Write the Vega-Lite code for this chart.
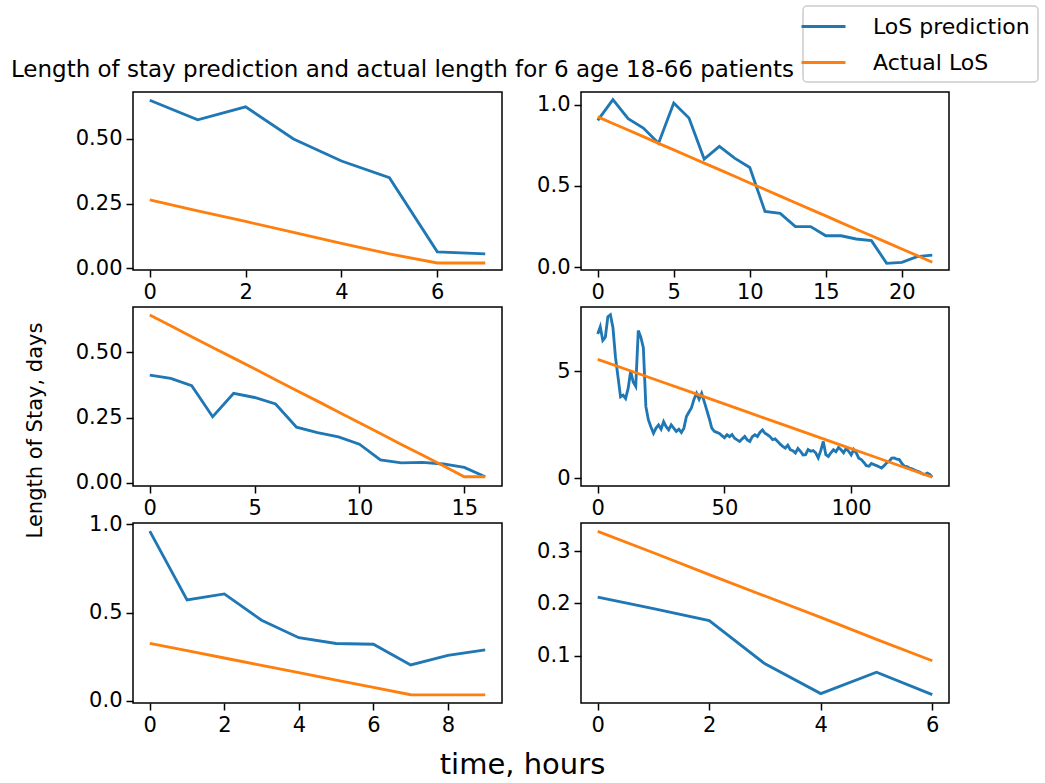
{
"$schema": "https://vega.github.io/schema/vega-lite/v6.json",
"background": "white",
"padding": {"left": 10, "top": 5, "right": 2, "bottom": 5},
"datasets": {
"d": [
{"p":1,"s":"LoS prediction","t":0,"v":0.648},{"p":1,"s":"LoS prediction","t":1,"v":0.573},{"p":1,"s":"LoS prediction","t":2,"v":0.623},{"p":1,"s":"LoS prediction","t":3,"v":0.499},{"p":1,"s":"LoS prediction","t":4,"v":0.414},{"p":1,"s":"LoS prediction","t":5,"v":0.350},{"p":1,"s":"LoS prediction","t":6,"v":0.064},{"p":1,"s":"LoS prediction","t":7,"v":0.056},
{"p":1,"s":"Actual LoS","t":0,"v":0.264},{"p":1,"s":"Actual LoS","t":1,"v":0.222},{"p":1,"s":"Actual LoS","t":2,"v":0.181},{"p":1,"s":"Actual LoS","t":3,"v":0.139},{"p":1,"s":"Actual LoS","t":4,"v":0.097},{"p":1,"s":"Actual LoS","t":5,"v":0.056},{"p":1,"s":"Actual LoS","t":6,"v":0.021},{"p":1,"s":"Actual LoS","t":7,"v":0.021},

{"p":2,"s":"LoS prediction","t":0,"v":0.903},{"p":2,"s":"LoS prediction","t":1,"v":1.031},{"p":2,"s":"LoS prediction","t":2,"v":0.914},{"p":2,"s":"LoS prediction","t":3,"v":0.856},{"p":2,"s":"LoS prediction","t":4,"v":0.763},{"p":2,"s":"LoS prediction","t":5,"v":1.010},{"p":2,"s":"LoS prediction","t":6,"v":0.918},{"p":2,"s":"LoS prediction","t":7,"v":0.665},{"p":2,"s":"LoS prediction","t":8,"v":0.743},{"p":2,"s":"LoS prediction","t":9,"v":0.671},{"p":2,"s":"LoS prediction","t":10,"v":0.613},{"p":2,"s":"LoS prediction","t":11,"v":0.342},{"p":2,"s":"LoS prediction","t":12,"v":0.331},{"p":2,"s":"LoS prediction","t":13,"v":0.249},{"p":2,"s":"LoS prediction","t":14,"v":0.249},{"p":2,"s":"LoS prediction","t":15,"v":0.193},{"p":2,"s":"LoS prediction","t":16,"v":0.193},{"p":2,"s":"LoS prediction","t":17,"v":0.173},{"p":2,"s":"LoS prediction","t":18,"v":0.163},{"p":2,"s":"LoS prediction","t":19,"v":0.023},{"p":2,"s":"LoS prediction","t":20,"v":0.029},{"p":2,"s":"LoS prediction","t":21,"v":0.064},{"p":2,"s":"LoS prediction","t":22,"v":0.074},
{"p":2,"s":"Actual LoS","t":0,"v":0.925},{"p":2,"s":"Actual LoS","t":1,"v":0.884},{"p":2,"s":"Actual LoS","t":2,"v":0.844},{"p":2,"s":"Actual LoS","t":3,"v":0.803},{"p":2,"s":"Actual LoS","t":4,"v":0.762},{"p":2,"s":"Actual LoS","t":5,"v":0.722},{"p":2,"s":"Actual LoS","t":6,"v":0.681},{"p":2,"s":"Actual LoS","t":7,"v":0.640},{"p":2,"s":"Actual LoS","t":8,"v":0.600},{"p":2,"s":"Actual LoS","t":9,"v":0.559},{"p":2,"s":"Actual LoS","t":10,"v":0.518},{"p":2,"s":"Actual LoS","t":11,"v":0.478},{"p":2,"s":"Actual LoS","t":12,"v":0.437},{"p":2,"s":"Actual LoS","t":13,"v":0.396},{"p":2,"s":"Actual LoS","t":14,"v":0.355},{"p":2,"s":"Actual LoS","t":15,"v":0.315},{"p":2,"s":"Actual LoS","t":16,"v":0.274},{"p":2,"s":"Actual LoS","t":17,"v":0.233},{"p":2,"s":"Actual LoS","t":18,"v":0.193},{"p":2,"s":"Actual LoS","t":19,"v":0.152},{"p":2,"s":"Actual LoS","t":20,"v":0.111},{"p":2,"s":"Actual LoS","t":21,"v":0.071},{"p":2,"s":"Actual LoS","t":22,"v":0.030},

{"p":3,"s":"LoS prediction","t":0,"v":0.413},{"p":3,"s":"LoS prediction","t":1,"v":0.400},{"p":3,"s":"LoS prediction","t":2,"v":0.372},{"p":3,"s":"LoS prediction","t":3,"v":0.253},{"p":3,"s":"LoS prediction","t":4,"v":0.343},{"p":3,"s":"LoS prediction","t":5,"v":0.327},{"p":3,"s":"LoS prediction","t":6,"v":0.302},{"p":3,"s":"LoS prediction","t":7,"v":0.213},{"p":3,"s":"LoS prediction","t":8,"v":0.192},{"p":3,"s":"LoS prediction","t":9,"v":0.176},{"p":3,"s":"LoS prediction","t":10,"v":0.148},{"p":3,"s":"LoS prediction","t":11,"v":0.088},{"p":3,"s":"LoS prediction","t":12,"v":0.076},{"p":3,"s":"LoS prediction","t":13,"v":0.078},{"p":3,"s":"LoS prediction","t":14,"v":0.072},{"p":3,"s":"LoS prediction","t":15,"v":0.059},{"p":3,"s":"LoS prediction","t":16,"v":0.023},
{"p":3,"s":"Actual LoS","t":0,"v":0.643},{"p":3,"s":"Actual LoS","t":1,"v":0.602},{"p":3,"s":"Actual LoS","t":2,"v":0.560},{"p":3,"s":"Actual LoS","t":3,"v":0.519},{"p":3,"s":"Actual LoS","t":4,"v":0.478},{"p":3,"s":"Actual LoS","t":5,"v":0.437},{"p":3,"s":"Actual LoS","t":6,"v":0.395},{"p":3,"s":"Actual LoS","t":7,"v":0.354},{"p":3,"s":"Actual LoS","t":8,"v":0.313},{"p":3,"s":"Actual LoS","t":9,"v":0.271},{"p":3,"s":"Actual LoS","t":10,"v":0.230},{"p":3,"s":"Actual LoS","t":11,"v":0.189},{"p":3,"s":"Actual LoS","t":12,"v":0.147},{"p":3,"s":"Actual LoS","t":13,"v":0.106},{"p":3,"s":"Actual LoS","t":14,"v":0.065},{"p":3,"s":"Actual LoS","t":15,"v":0.023},{"p":3,"s":"Actual LoS","t":16,"v":0.023},

{"p":4,"s":"LoS prediction","t":0,"v":6.74},{"p":4,"s":"LoS prediction","t":1,"v":7.08},{"p":4,"s":"LoS prediction","t":2,"v":6.44},{"p":4,"s":"LoS prediction","t":3,"v":6.59},{"p":4,"s":"LoS prediction","t":4,"v":7.55},{"p":4,"s":"LoS prediction","t":5,"v":7.64},{"p":4,"s":"LoS prediction","t":6,"v":7.05},{"p":4,"s":"LoS prediction","t":7,"v":5.66},{"p":4,"s":"LoS prediction","t":8,"v":4.74},{"p":4,"s":"LoS prediction","t":9,"v":3.81},
{"p":4,"s":"LoS prediction","t":10,"v":3.89},{"p":4,"s":"LoS prediction","t":11,"v":3.73},{"p":4,"s":"LoS prediction","t":12,"v":4.2},{"p":4,"s":"LoS prediction","t":13,"v":5.0},{"p":4,"s":"LoS prediction","t":14,"v":4.5},{"p":4,"s":"LoS prediction","t":15,"v":4.3},{"p":4,"s":"LoS prediction","t":16,"v":6.9},{"p":4,"s":"LoS prediction","t":17,"v":6.59},{"p":4,"s":"LoS prediction","t":18,"v":6.1},{"p":4,"s":"LoS prediction","t":19,"v":3.35},
{"p":4,"s":"LoS prediction","t":20,"v":2.73},{"p":4,"s":"LoS prediction","t":21,"v":2.4},{"p":4,"s":"LoS prediction","t":22,"v":2.11},{"p":4,"s":"LoS prediction","t":23,"v":2.35},{"p":4,"s":"LoS prediction","t":24,"v":2.5},{"p":4,"s":"LoS prediction","t":25,"v":2.3},{"p":4,"s":"LoS prediction","t":26,"v":2.65},{"p":4,"s":"LoS prediction","t":27,"v":2.42},{"p":4,"s":"LoS prediction","t":28,"v":2.27},{"p":4,"s":"LoS prediction","t":29,"v":2.5},
{"p":4,"s":"LoS prediction","t":30,"v":2.35},{"p":4,"s":"LoS prediction","t":31,"v":2.2},{"p":4,"s":"LoS prediction","t":32,"v":2.3},{"p":4,"s":"LoS prediction","t":33,"v":2.15},{"p":4,"s":"LoS prediction","t":34,"v":2.35},{"p":4,"s":"LoS prediction","t":35,"v":2.89},{"p":4,"s":"LoS prediction","t":36,"v":3.1},{"p":4,"s":"LoS prediction","t":37,"v":3.3},{"p":4,"s":"LoS prediction","t":38,"v":3.7},{"p":4,"s":"LoS prediction","t":39,"v":3.97},
{"p":4,"s":"LoS prediction","t":40,"v":3.7},{"p":4,"s":"LoS prediction","t":41,"v":3.97},{"p":4,"s":"LoS prediction","t":42,"v":3.6},{"p":4,"s":"LoS prediction","t":43,"v":3.2},{"p":4,"s":"LoS prediction","t":44,"v":2.8},{"p":4,"s":"LoS prediction","t":45,"v":2.35},{"p":4,"s":"LoS prediction","t":46,"v":2.2},{"p":4,"s":"LoS prediction","t":47,"v":2.15},{"p":4,"s":"LoS prediction","t":48,"v":2.1},{"p":4,"s":"LoS prediction","t":49,"v":2.0},
{"p":4,"s":"LoS prediction","t":50,"v":1.9},{"p":4,"s":"LoS prediction","t":51,"v":2.04},{"p":4,"s":"LoS prediction","t":52,"v":1.95},{"p":4,"s":"LoS prediction","t":53,"v":2.05},{"p":4,"s":"LoS prediction","t":54,"v":1.88},{"p":4,"s":"LoS prediction","t":55,"v":1.8},{"p":4,"s":"LoS prediction","t":56,"v":1.73},{"p":4,"s":"LoS prediction","t":57,"v":1.85},{"p":4,"s":"LoS prediction","t":58,"v":1.96},{"p":4,"s":"LoS prediction","t":59,"v":1.8},
{"p":4,"s":"LoS prediction","t":60,"v":1.73},{"p":4,"s":"LoS prediction","t":61,"v":1.95},{"p":4,"s":"LoS prediction","t":62,"v":2.04},{"p":4,"s":"LoS prediction","t":63,"v":1.96},{"p":4,"s":"LoS prediction","t":64,"v":2.15},{"p":4,"s":"LoS prediction","t":65,"v":2.27},{"p":4,"s":"LoS prediction","t":66,"v":2.11},{"p":4,"s":"LoS prediction","t":67,"v":2.04},{"p":4,"s":"LoS prediction","t":68,"v":1.95},{"p":4,"s":"LoS prediction","t":69,"v":1.81},
{"p":4,"s":"LoS prediction","t":70,"v":1.85},{"p":4,"s":"LoS prediction","t":71,"v":1.73},{"p":4,"s":"LoS prediction","t":72,"v":1.6},{"p":4,"s":"LoS prediction","t":73,"v":1.5},{"p":4,"s":"LoS prediction","t":74,"v":1.42},{"p":4,"s":"LoS prediction","t":75,"v":1.55},{"p":4,"s":"LoS prediction","t":76,"v":1.34},{"p":4,"s":"LoS prediction","t":77,"v":1.3},{"p":4,"s":"LoS prediction","t":78,"v":1.19},{"p":4,"s":"LoS prediction","t":79,"v":1.4},
{"p":4,"s":"LoS prediction","t":80,"v":1.27},{"p":4,"s":"LoS prediction","t":81,"v":1.1},{"p":4,"s":"LoS prediction","t":82,"v":1.11},{"p":4,"s":"LoS prediction","t":83,"v":1.35},{"p":4,"s":"LoS prediction","t":84,"v":1.27},{"p":4,"s":"LoS prediction","t":85,"v":1.3},{"p":4,"s":"LoS prediction","t":86,"v":1.2},{"p":4,"s":"LoS prediction","t":87,"v":0.96},{"p":4,"s":"LoS prediction","t":88,"v":1.3},{"p":4,"s":"LoS prediction","t":89,"v":1.73},
{"p":4,"s":"LoS prediction","t":90,"v":1.11},{"p":4,"s":"LoS prediction","t":91,"v":1.03},{"p":4,"s":"LoS prediction","t":92,"v":1.2},{"p":4,"s":"LoS prediction","t":93,"v":1.34},{"p":4,"s":"LoS prediction","t":94,"v":1.25},{"p":4,"s":"LoS prediction","t":95,"v":1.45},{"p":4,"s":"LoS prediction","t":96,"v":1.34},{"p":4,"s":"LoS prediction","t":97,"v":1.2},{"p":4,"s":"LoS prediction","t":98,"v":1.4},{"p":4,"s":"LoS prediction","t":99,"v":1.27},
{"p":4,"s":"LoS prediction","t":100,"v":1.1},{"p":4,"s":"LoS prediction","t":101,"v":1.35},{"p":4,"s":"LoS prediction","t":102,"v":1.2},{"p":4,"s":"LoS prediction","t":103,"v":0.95},{"p":4,"s":"LoS prediction","t":104,"v":0.88},{"p":4,"s":"LoS prediction","t":105,"v":0.75},{"p":4,"s":"LoS prediction","t":106,"v":0.6},{"p":4,"s":"LoS prediction","t":107,"v":0.57},{"p":4,"s":"LoS prediction","t":108,"v":0.7},{"p":4,"s":"LoS prediction","t":109,"v":0.65},
{"p":4,"s":"LoS prediction","t":110,"v":0.6},{"p":4,"s":"LoS prediction","t":111,"v":0.55},{"p":4,"s":"LoS prediction","t":112,"v":0.49},{"p":4,"s":"LoS prediction","t":113,"v":0.6},{"p":4,"s":"LoS prediction","t":114,"v":0.73},{"p":4,"s":"LoS prediction","t":115,"v":0.8},{"p":4,"s":"LoS prediction","t":116,"v":0.95},{"p":4,"s":"LoS prediction","t":117,"v":0.96},{"p":4,"s":"LoS prediction","t":118,"v":0.9},{"p":4,"s":"LoS prediction","t":119,"v":0.88},
{"p":4,"s":"LoS prediction","t":120,"v":0.7},{"p":4,"s":"LoS prediction","t":121,"v":0.57},{"p":4,"s":"LoS prediction","t":122,"v":0.55},{"p":4,"s":"LoS prediction","t":123,"v":0.49},{"p":4,"s":"LoS prediction","t":124,"v":0.45},{"p":4,"s":"LoS prediction","t":125,"v":0.4},{"p":4,"s":"LoS prediction","t":126,"v":0.34},{"p":4,"s":"LoS prediction","t":127,"v":0.3},{"p":4,"s":"LoS prediction","t":128,"v":0.22},{"p":4,"s":"LoS prediction","t":129,"v":0.19},
{"p":4,"s":"LoS prediction","t":130,"v":0.25},{"p":4,"s":"LoS prediction","t":131,"v":0.19},{"p":4,"s":"LoS prediction","t":132,"v":0.06},
{"p":4,"s":"Actual LoS","t":0,"v":5.56},{"p":4,"s":"Actual LoS","t":12,"v":5.06},{"p":4,"s":"Actual LoS","t":24,"v":4.56},{"p":4,"s":"Actual LoS","t":36,"v":4.06},{"p":4,"s":"Actual LoS","t":48,"v":3.56},{"p":4,"s":"Actual LoS","t":60,"v":3.06},{"p":4,"s":"Actual LoS","t":72,"v":2.56},{"p":4,"s":"Actual LoS","t":84,"v":2.06},{"p":4,"s":"Actual LoS","t":96,"v":1.56},{"p":4,"s":"Actual LoS","t":108,"v":1.06},{"p":4,"s":"Actual LoS","t":120,"v":0.56},{"p":4,"s":"Actual LoS","t":132,"v":0.06},

{"p":5,"s":"LoS prediction","t":0,"v":0.962},{"p":5,"s":"LoS prediction","t":1,"v":0.572},{"p":5,"s":"LoS prediction","t":2,"v":0.606},{"p":5,"s":"LoS prediction","t":3,"v":0.457},{"p":5,"s":"LoS prediction","t":4,"v":0.358},{"p":5,"s":"LoS prediction","t":5,"v":0.325},{"p":5,"s":"LoS prediction","t":6,"v":0.321},{"p":5,"s":"LoS prediction","t":7,"v":0.204},{"p":5,"s":"LoS prediction","t":8,"v":0.258},{"p":5,"s":"LoS prediction","t":9,"v":0.289},
{"p":5,"s":"Actual LoS","t":0,"v":0.326},{"p":5,"s":"Actual LoS","t":1,"v":0.285},{"p":5,"s":"Actual LoS","t":2,"v":0.243},{"p":5,"s":"Actual LoS","t":3,"v":0.201},{"p":5,"s":"Actual LoS","t":4,"v":0.160},{"p":5,"s":"Actual LoS","t":5,"v":0.118},{"p":5,"s":"Actual LoS","t":6,"v":0.076},{"p":5,"s":"Actual LoS","t":7,"v":0.035},{"p":5,"s":"Actual LoS","t":8,"v":0.034},{"p":5,"s":"Actual LoS","t":9,"v":0.034},

{"p":6,"s":"LoS prediction","t":0,"v":0.212},{"p":6,"s":"LoS prediction","t":1,"v":0.190},{"p":6,"s":"LoS prediction","t":2,"v":0.167},{"p":6,"s":"LoS prediction","t":3,"v":0.084},{"p":6,"s":"LoS prediction","t":4,"v":0.027},{"p":6,"s":"LoS prediction","t":5,"v":0.068},{"p":6,"s":"LoS prediction","t":6,"v":0.025},
{"p":6,"s":"Actual LoS","t":0,"v":0.338},{"p":6,"s":"Actual LoS","t":1,"v":0.297},{"p":6,"s":"Actual LoS","t":2,"v":0.255},{"p":6,"s":"Actual LoS","t":3,"v":0.214},{"p":6,"s":"Actual LoS","t":4,"v":0.173},{"p":6,"s":"Actual LoS","t":5,"v":0.131},{"p":6,"s":"Actual LoS","t":6,"v":0.090}
]
},
"data": {"name": "d"},
"columns": 2,
"spacing": {"row": 37, "column": 79},
"bounds": "flush",
"resolve": {"scale": {"x": "independent", "y": "independent", "color": "shared"}, "legend": {"color": "shared"}},
"concat": [
{
"width": 369, "height": 178,
"title": {"text": "Length of stay prediction and actual length for 6 age 18-66 patients", "anchor": "middle", "frame": "group", "dx": 85, "offset": -8, "baseline": "alphabetic"},
"transform": [{"filter": "datum.p == 1"}],
"mark": {"type": "line", "strokeWidth": 2.85},
"encoding": {
"x": {"field": "t", "type": "quantitative", "scale": {"domain": [-0.35, 7.35], "nice": false, "zero": false}, "axis": {"values": [0, 2, 4, 6], "title": null}},
"y": {"field": "v", "type": "quantitative", "scale": {"domain": [-0.006, 0.68], "nice": false, "zero": false}, "axis": {"values": [0, 0.25, 0.5], "format": ".2f", "title": null}},
"color": {"field": "s", "type": "nominal", "sort": null, "scale": {"domain": ["LoS prediction", "Actual LoS"], "range": ["#1f77b4", "#ff7f0e"]}, "legend": {"title": null}}
}
},
{
"width": 368, "height": 178,
"transform": [{"filter": "datum.p == 2"}],
"mark": {"type": "line", "strokeWidth": 2.85},
"encoding": {
"x": {"field": "t", "type": "quantitative", "scale": {"domain": [-1.1, 23.1], "nice": false, "zero": false}, "axis": {"values": [0, 5, 10, 15, 20], "title": null}},
"y": {"field": "v", "type": "quantitative", "scale": {"domain": [-0.018, 1.078], "nice": false, "zero": false}, "axis": {"values": [0, 0.5, 1], "format": ".1f", "title": null}},
"color": {"field": "s", "type": "nominal", "sort": null, "scale": {"domain": ["LoS prediction", "Actual LoS"], "range": ["#1f77b4", "#ff7f0e"]}, "legend": {"title": null}}
}
},
{
"width": 369, "height": 179,
"transform": [{"filter": "datum.p == 3"}],
"mark": {"type": "line", "strokeWidth": 2.85},
"encoding": {
"x": {"field": "t", "type": "quantitative", "scale": {"domain": [-0.8, 16.8], "nice": false, "zero": false}, "axis": {"values": [0, 5, 10, 15], "title": null}},
"y": {"field": "v", "type": "quantitative", "scale": {"domain": [-0.0125, 0.674], "nice": false, "zero": false}, "axis": {"values": [0, 0.25, 0.5], "format": ".2f", "title": "Length of Stay, days", "titleFontSize": 21, "titleX": -88, "titleY": 123, "titleAngle": 270, "titleBaseline": "bottom", "titleAlign": "center"}},
"color": {"field": "s", "type": "nominal", "sort": null, "scale": {"domain": ["LoS prediction", "Actual LoS"], "range": ["#1f77b4", "#ff7f0e"]}, "legend": {"title": null}}
}
},
{
"width": 368, "height": 179,
"transform": [{"filter": "datum.p == 4"}],
"mark": {"type": "line", "strokeWidth": 2.85},
"encoding": {
"x": {"field": "t", "type": "quantitative", "scale": {"domain": [-6.6, 138.6], "nice": false, "zero": false}, "axis": {"values": [0, 50, 100], "title": null}},
"y": {"field": "v", "type": "quantitative", "scale": {"domain": [-0.35, 8.0], "nice": false, "zero": false}, "axis": {"values": [0, 5], "format": "d", "title": null}},
"color": {"field": "s", "type": "nominal", "sort": null, "scale": {"domain": ["LoS prediction", "Actual LoS"], "range": ["#1f77b4", "#ff7f0e"]}, "legend": {"title": null}}
}
},
{
"width": 369, "height": 180,
"transform": [{"filter": "datum.p == 5"}],
"mark": {"type": "line", "strokeWidth": 2.85},
"encoding": {
"x": {"field": "t", "type": "quantitative", "scale": {"domain": [-0.45, 9.45], "nice": false, "zero": false}, "axis": {"values": [0, 2, 4, 6, 8], "title": "time, hours", "titleFontSize": 29, "titleX": 389, "titleY": 47, "titleAlign": "center", "titleBaseline": "top"}},
"y": {"field": "v", "type": "quantitative", "scale": {"domain": [-0.012, 1.008], "nice": false, "zero": false}, "axis": {"values": [0, 0.5, 1], "format": ".1f", "title": null}},
"color": {"field": "s", "type": "nominal", "sort": null, "scale": {"domain": ["LoS prediction", "Actual LoS"], "range": ["#1f77b4", "#ff7f0e"]}, "legend": {"title": null}}
}
},
{
"width": 368, "height": 180,
"transform": [{"filter": "datum.p == 6"}],
"mark": {"type": "line", "strokeWidth": 2.85},
"encoding": {
"x": {"field": "t", "type": "quantitative", "scale": {"domain": [-0.3, 6.3], "nice": false, "zero": false}, "axis": {"values": [0, 2, 4, 6], "title": null}},
"y": {"field": "v", "type": "quantitative", "scale": {"domain": [0.009, 0.354], "nice": false, "zero": false}, "axis": {"values": [0.1, 0.2, 0.3], "format": ".1f", "title": null}},
"color": {"field": "s", "type": "nominal", "sort": null, "scale": {"domain": ["LoS prediction", "Actual LoS"], "range": ["#1f77b4", "#ff7f0e"]}, "legend": {"title": null}}
}
}
],
"config": {
"font": "DejaVu Sans",
"view": {"stroke": "black", "strokeWidth": 1.5},
"axis": {"grid": false, "domain": false, "tickColor": "black", "tickSize": 7, "tickWidth": 1.5, "labelFont": "DejaVu Sans", "labelFontSize": 21, "labelColor": "black", "labelPadding": 4, "labelFlush": false, "labelOverlap": false, "titleFont": "DejaVu Sans", "titleFontWeight": "normal", "titleColor": "black"},
"title": {"font": "DejaVu Sans", "fontSize": 23, "fontWeight": "normal", "color": "black"},
"legend": {"orient": "none", "legendX": 670, "legendY": -86, "direction": "vertical", "symbolType": "M-2,0L2,0", "symbolSize": 484, "symbolStrokeWidth": 2.85, "labelFont": "DejaVu Sans", "labelFontSize": 22, "labelColor": "black", "labelOffset": 37, "fillColor": "white", "strokeColor": "#cccccc", "strokeWidth": 1.5, "cornerRadius": 4, "padding": 8, "rowPadding": 12}
}
}
